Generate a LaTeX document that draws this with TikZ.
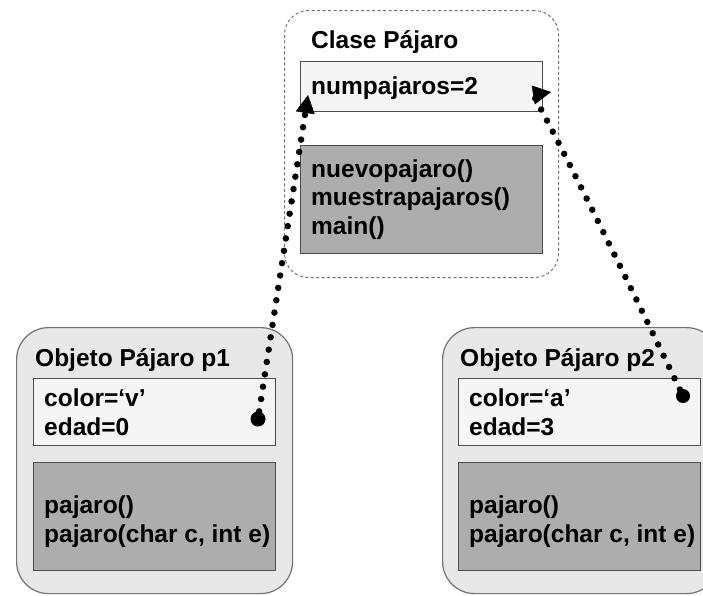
\documentclass[tikz,border=0pt]{standalone}
\usepackage{fontspec}
\setmainfont{Liberation Sans}
\usetikzlibrary{arrows.meta}

\tikzset{
  clase/.style={draw=black!55, line width=1pt, dash pattern=on 3pt off 2.5pt,
    rounded corners=24pt, fill=white, anchor=north west,
    minimum width=274pt, minimum height=267pt},
  objeto/.style={draw=black!55, line width=1.2pt, rounded corners=32pt,
    fill=black!9, anchor=north west, minimum width=276pt, minimum height=266pt},
  atributos/.style={draw=black!70, line width=1pt, fill=black!4,
    anchor=north west, minimum width=242pt},
  metodos/.style={draw=black!70, line width=1pt, fill=black!32,
    anchor=north west, minimum width=242pt, minimum height=108pt},
  texto/.style={inner sep=0pt, align=left, anchor=base west,
    font=\fontsize{24.5}{28.5}\selectfont\bfseries},
  punto/.style={circle, fill=black, inner sep=0pt, minimum size=14pt},
  enlace/.style={line width=6.5pt, line cap=round, dash pattern=on 0pt off 12.5pt,
    -{Triangle[length=18pt, width=19pt, line width=0.5pt]}}
}

\begin{document}
\begin{tikzpicture}[x=1pt,y=-1pt]

\useasboundingbox (0,0) rectangle (703,595);
\clip (0,0) rectangle (703,595);

% Clase
\node[clase] (clase) at (284,10) {};
\node[texto] (tclase) at (311,48) {Clase Pájaro};

\node[atributos, minimum height=50pt] (num) at (300,61) {};
\node[texto] (tnum) at (311,94) {numpajaros=2};

\node[metodos] (met) at (300,145) {};
\node[texto] (tmet) at (311,234) {nuevopajaro()\\muestrapajaros()\\main()};

% Objeto p1
\node[objeto] (obj1) at (16,327) {};
\node[texto] (tobj1) at (35,366) {Objeto Pájaro p1};

\node[atributos, minimum height=67pt] (at1) at (33,378) {};
\node[texto] (tat1) at (44,435) {color=‘v’\\edad=0};

\node[metodos] (me1) at (33,462) {};
\node[texto] (tme1) at (44,542) {pajaro()\\pajaro(char c, int e)};

% Objeto p2
\node[objeto] (obj2) at (442,327) {};
\node[texto] (tobj2) at (460,366) {Objeto Pájaro p2};

\node[atributos, minimum height=67pt] (at2) at (458,378) {};
\node[texto] (tat2) at (469,435) {color=‘a’\\edad=3};

\node[metodos] (me2) at (458,462) {};
\node[texto] (tme2) at (469,542) {pajaro()\\pajaro(char c, int e)};

% Enlaces
\node[punto, minimum size=15pt] (d1) at (258,419) {};
\node[punto] (d2) at (683,396) {};

\coordinate (tipL) at (308,95);
\coordinate (tipR) at (551,92);

\draw[enlace] (d1) -- (tipL);
\draw[enlace] (d2) .. controls (560,140) and (533,95) .. (tipR);

\end{tikzpicture}
\end{document}
